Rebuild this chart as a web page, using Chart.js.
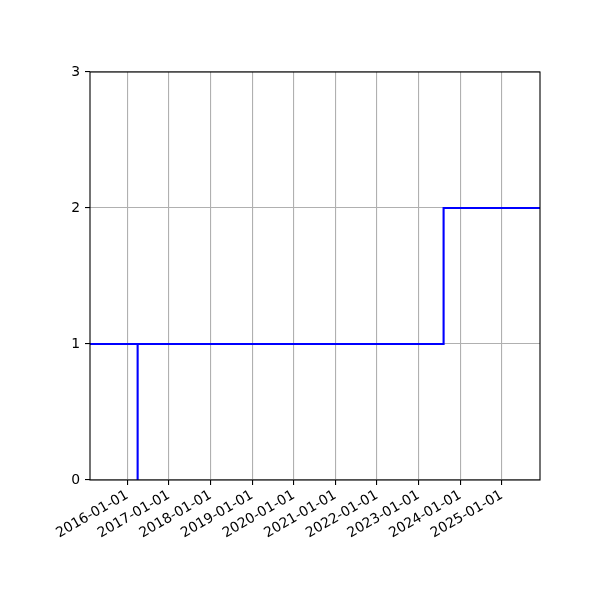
<!DOCTYPE html>
<html>
<head>
<meta charset="utf-8">
<script src="https://cdn.jsdelivr.net/npm/chart.js@4/dist/chart.umd.min.js"></script>
<style>
  html, body { margin: 0; padding: 0; background: #fff; }
  #wrap { width: 600px; height: 600px; }
</style>
</head>
<body>
<div id="wrap"><canvas id="stepChart" width="600" height="600"></canvas></div>
<script>
// step data (dates, values on the y axis)
const stepDates  = ['2015-02-08', '2016-04-01', '2016-04-01', '2023-08-08', '2025-12-01'];
const stepValues = [1, 0, 1, 2, 2];
const yearTicks  = ['2016-01-01','2017-01-01','2018-01-01','2019-01-01','2020-01-01',
                    '2021-01-01','2022-01-01','2023-01-01','2024-01-01','2025-01-01'];
const yTicks     = [0, 1, 2, 3];

const toMs = s => Date.parse(s + 'T00:00:00Z');
const fmt = ms => new Date(ms).toISOString().slice(0, 10);

const FONT = { family: 'DejaVu Sans', size: 13.9 };

/* matplotlib draws a full black frame round the axes */
const frame = {
  id: 'frame',
  afterDraw(chart) {
    const a = chart.chartArea, c = chart.ctx;
    c.save();
    c.strokeStyle = '#000';
    c.lineWidth = 1.1;
    c.strokeRect(a.left, a.top, a.right - a.left, a.bottom - a.top);
    c.restore();
  }
};

new Chart(document.getElementById('stepChart'), {
  type: 'line',
  data: {
    datasets: [{
      data: stepDates.map((d, i) => ({ x: toMs(d), y: stepValues[i] })),
      borderColor: '#0000ff',
      borderWidth: 2.1,
      stepped: 'before',   // chart.js 'before' == matplotlib where='post'
      pointRadius: 0,
      fill: false
    }]
  },
  options: {
    responsive: false,
    animation: false,
    layout: { padding: { left: 0, top: 72, right: 60, bottom: 0 } },
    plugins: { legend: { display: false }, tooltip: { enabled: false } },
    scales: {
      x: {
        type: 'linear',
        min: toMs(stepDates[0]),
        max: toMs(stepDates[stepDates.length - 1]),
        afterBuildTicks: s => { s.ticks = yearTicks.map(d => ({ value: toMs(d) })); },
        afterFit: s => { s.height = 120; },
        grid: { color: '#b0b0b0', lineWidth: 1.1, tickColor: '#000', tickLength: 5, tickWidth: 1.1 },
        border: { display: false },
        ticks: {
          font: FONT, color: '#000', padding: 2,
          minRotation: 30, maxRotation: 30,
          callback: v => fmt(v)
        }
      },
      y: {
        min: 0, max: 3,
        afterBuildTicks: s => { s.ticks = yTicks.map(v => ({ value: v })); },
        afterFit: s => { s.width = 90; },
        grid: { color: '#b0b0b0', lineWidth: 1.1, tickColor: '#000', tickLength: 5, tickWidth: 1.1 },
        border: { display: false },
        ticks: { font: FONT, color: '#000', padding: 5 }
      }
    }
  },
  plugins: [frame]
});
</script>
</body>
</html>
